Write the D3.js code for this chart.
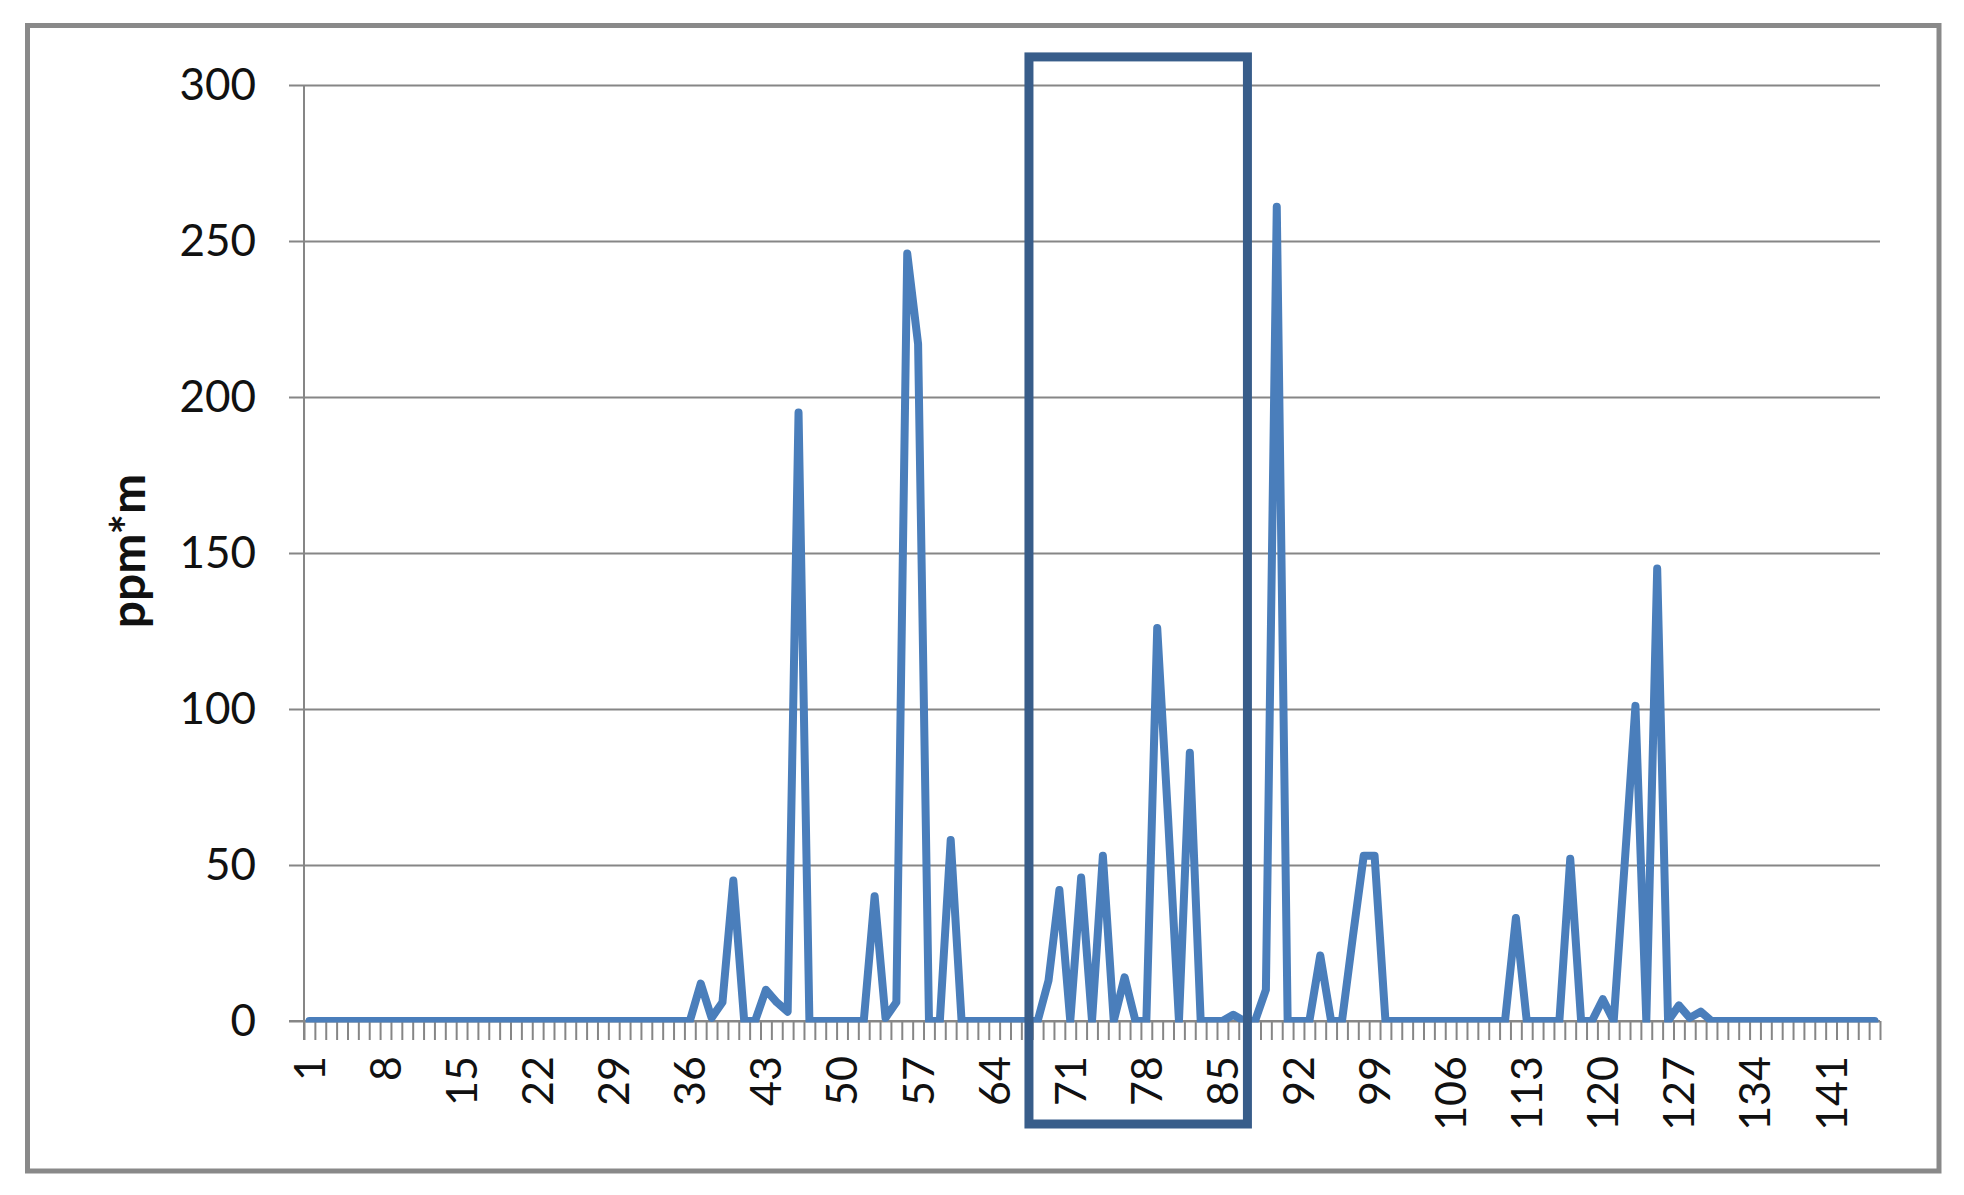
<!DOCTYPE html>
<html>
<head>
<meta charset="utf-8">
<script src="https://cdn.jsdelivr.net/npm/d3@7"></script>
<style>
  body { margin: 0; background: #fff; }
  svg { display: block; }
</style>
</head>
<body>
<svg id="chart"></svg>
<script>
// sample index 1..145
const samples = d3.range(1, 146);

// ppm*m per sample
const ppm = [
  0, 0, 0, 0, 0, 0, 0, 0, 0, 0,        // 1-10
  0, 0, 0, 0, 0, 0, 0, 0, 0, 0,        // 11-20
  0, 0, 0, 0, 0, 0, 0, 0, 0, 0,        // 21-30
  0, 0, 0, 0, 0, 0, 12, 1, 6, 45,      // 31-40
  0, 0, 10, 6, 3, 195, 0, 0, 0, 0,     // 41-50
  0, 0, 40, 1, 6, 246, 217, 0, 0, 58,  // 51-60
  0, 0, 0, 0, 0, 0, 0, 0, 13, 42,      // 61-70
  0, 46, 0, 53, 0, 14, 0, 0, 126, 65,  // 71-80
  0, 86, 0, 0, 0, 2, 0, 0, 10, 261,    // 81-90
  0, 0, 0, 21, 0, 0, 27, 53, 53, 0,    // 91-100
  0, 0, 0, 0, 0, 0, 0, 0, 0, 0,        // 101-110
  0, 33, 0, 0, 0, 0, 52, 0, 0, 7,      // 111-120
  0, 50, 101, 0, 145, 0, 5, 1, 3, 0,   // 121-130
  0, 0, 0, 0, 0, 0, 0, 0, 0, 0,        // 131-140
  0, 0, 0, 0, 0                        // 141-145
];

const yTicks = [0, 50, 100, 150, 200, 250, 300];
const xTickLabels = [1, 8, 15, 22, 29, 36, 43, 50, 57, 64, 71, 78, 85, 92, 99, 106, 113, 120, 127, 134, 141];
const yTitle = "ppm*m";

// highlighted window (in sample units) and its top (in ppm*m)
const highlightSamples = [67.2, 87.3];
const highlightTop = 309;

const W = 1964, H = 1195;
const plot = { left: 304, right: 1880, top: 85, bottom: 1021 };

const svg = d3.select("#chart")
    .attr("width", W)
    .attr("height", H);

svg.append("rect")
    .attr("width", W).attr("height", H)
    .attr("fill", "#fff");

// plot-area clip, the series is cut at the axis like in Excel
svg.append("defs").append("clipPath")
    .attr("id", "plot-clip")
    .append("rect")
    .attr("x", plot.left)
    .attr("y", plot.top - 60)
    .attr("width", plot.right - plot.left)
    .attr("height", plot.bottom + 1.5 - (plot.top - 60));

// outer frame
svg.append("rect")
    .attr("x", 27.5).attr("y", 25.5)
    .attr("width", 1911.5).attr("height", 1145.5)
    .attr("fill", "none")
    .attr("stroke", "#898989")
    .attr("stroke-width", 5);

const x = d3.scaleLinear()
    .domain([0.5, samples.length + 0.5])
    .range([plot.left, plot.right]);

const y = d3.scaleLinear()
    .domain([0, 300])
    .range([plot.bottom, plot.top]);

// horizontal gridlines + y axis
const yAxis = svg.append("g")
    .attr("transform", "translate(" + plot.left + ",0)")
    .call(d3.axisLeft(y)
        .tickValues(yTicks)
        .tickSize(-(plot.right - plot.left))
        .tickPadding(0)
        .tickFormat(d3.format("d")));

yAxis.select(".domain").remove();
yAxis.selectAll(".tick line")
    .attr("x1", -15)
    .attr("stroke", "#868686")
    .attr("stroke-width", 2);
yAxis.selectAll(".tick text")
    .attr("x", -48)
    .attr("dy", 14)
    .attr("fill", "#111")
    .style("font-family", "Lato, 'Open Sans', sans-serif")
    .style("font-size", "44px");

// vertical axis line
svg.append("line")
    .attr("x1", plot.left).attr("x2", plot.left)
    .attr("y1", plot.top).attr("y2", plot.bottom + 19)
    .attr("stroke", "#868686")
    .attr("stroke-width", 2);

// category axis: ticks between categories
const xAxis = svg.append("g")
    .attr("transform", "translate(0," + plot.bottom + ")")
    .call(d3.axisBottom(x)
        .tickValues(d3.range(0, samples.length + 1).map(k => k + 0.5))
        .tickSize(19)
        .tickFormat(""));

xAxis.select(".domain")
    .attr("d", "M" + (plot.left - 15) + ",0H" + plot.right)
    .attr("stroke", "#868686")
    .attr("stroke-width", 2);
xAxis.selectAll(".tick line")
    .attr("stroke", "#868686")
    .attr("stroke-width", 2);

// rotated category labels
svg.append("g")
    .selectAll("text")
    .data(xTickLabels)
    .enter().append("text")
    .attr("transform", d => "translate(" + x(d) + "," + (plot.bottom + 35) + ") rotate(-90)")
    .attr("text-anchor", "end")
    .attr("dy", "0.36em")
    .attr("fill", "#111")
    .style("font-family", "Lato, 'Open Sans', sans-serif")
    .style("font-size", "43px")
    .text(d => d);

// y title
svg.append("text")
    .attr("transform", "translate(145,551) rotate(-90)")
    .attr("text-anchor", "middle")
    .attr("fill", "#111")
    .style("font-family", "Lato, 'Open Sans', sans-serif")
    .style("font-weight", "bold")
    .style("font-size", "48px")
    .text(yTitle);

// data line
const line = d3.line()
    .x((d, i) => x(samples[i]))
    .y(d => y(d));

svg.append("path")
    .datum(ppm)
    .attr("d", line)
    .attr("clip-path", "url(#plot-clip)")
    .attr("fill", "none")
    .attr("stroke", "#4a7ebb")
    .attr("stroke-width", 8)
    .attr("stroke-linejoin", "round")
    .attr("stroke-linecap", "round");

// highlight box
svg.append("rect")
    .attr("x", x(highlightSamples[0]))
    .attr("y", y(highlightTop))
    .attr("width", x(highlightSamples[1]) - x(highlightSamples[0]))
    .attr("height", (plot.bottom + 103) - y(highlightTop))
    .attr("fill", "none")
    .attr("stroke", "#385d8a")
    .attr("stroke-width", 9);
</script>
</body>
</html>
